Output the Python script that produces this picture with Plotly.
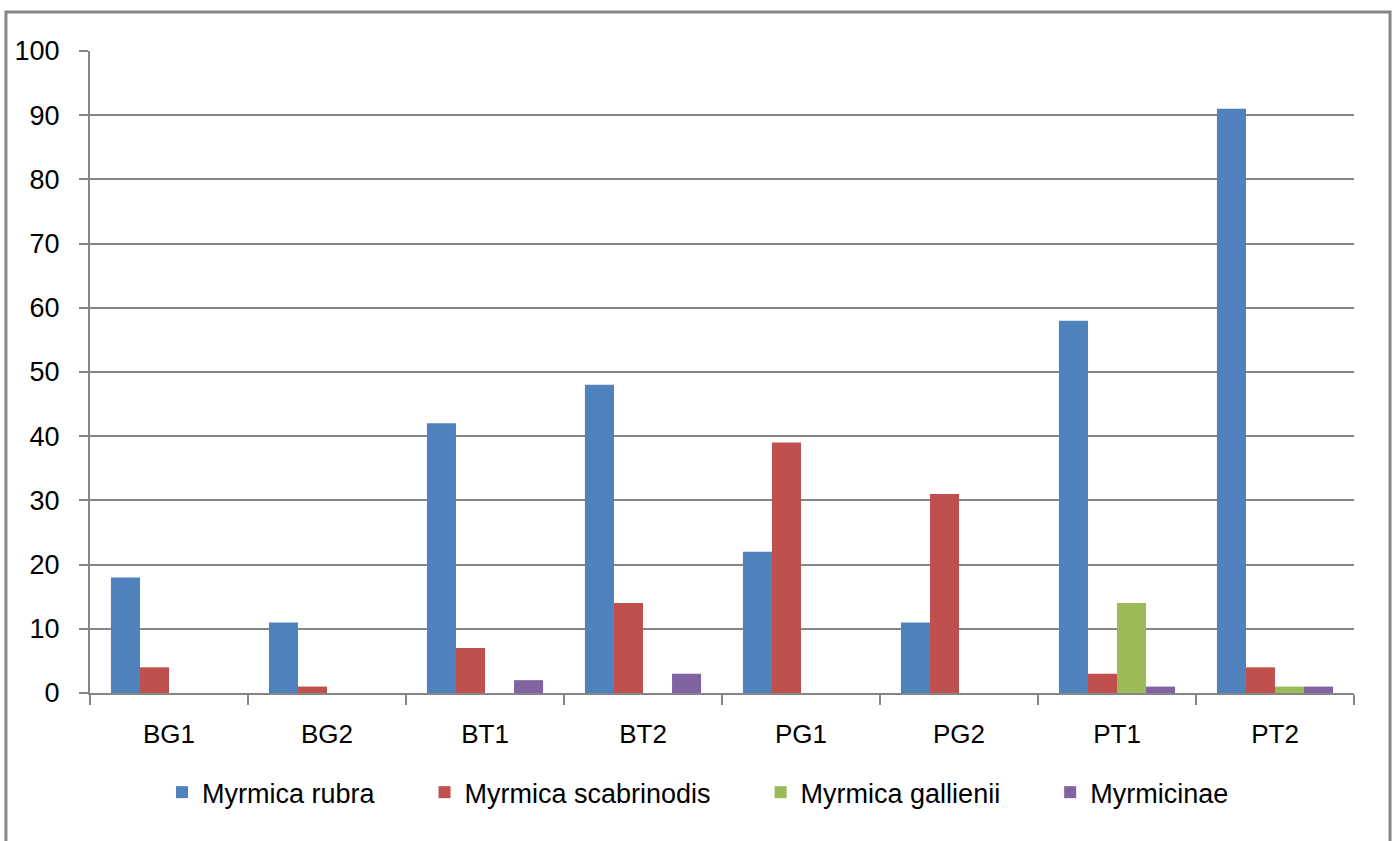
import plotly.graph_objects as go

# Sampling sites
sites = ["BG1", "BG2", "BT1", "BT2", "PG1", "PG2", "PT1", "PT2"]

# Counts per species at each site
myrmica_rubra = [18, 11, 42, 48, 22, 11, 58, 91]
myrmica_scabrinodis = [4, 1, 7, 14, 39, 31, 3, 4]
myrmica_gallienii = [0, 0, 0, 0, 0, 0, 14, 1]
myrmicinae = [0, 0, 2, 3, 0, 0, 1, 1]

y_ticks = list(range(0, 101, 10))

series = [
    ("Myrmica rubra", myrmica_rubra, "#4F81BD"),
    ("Myrmica scabrinodis", myrmica_scabrinodis, "#C0504D"),
    ("Myrmica gallienii", myrmica_gallienii, "#9BBB59"),
    ("Myrmicinae", myrmicinae, "#8064A2"),
]

# non-breaking padding to widen the gap between legend entries
pad = "\u00a0" * 6

fig = go.Figure()
for i, (name, vals, color) in enumerate(series):
    fig.add_trace(go.Bar(
        x=sites, y=vals,
        name=name + (pad if i < len(series) - 1 else ""),
        marker=dict(color=color, line=dict(width=0)),
    ))

grid = "#868686"
font_family = "Liberation Sans, Arial, sans-serif"

fig.update_layout(
    width=1393, height=841,
    margin=dict(l=90, r=39, t=51, b=148),
    paper_bgcolor="white", plot_bgcolor="white",
    barmode="group", bargap=0.265, bargroupgap=0,
    font=dict(family=font_family, size=27, color="black"),
    showlegend=True,
    legend=dict(
        orientation="h", x=0.481, xanchor="center", y=-0.117, yanchor="top",
        font=dict(size=27), itemwidth=30, traceorder="normal",
    ),
    xaxis=dict(
        type="category", showgrid=False,
        showline=True, linecolor=grid, linewidth=2,
        ticks="outside", ticklen=10, tickcolor=grid, tickwidth=2,
        tickson="boundaries", ticklabelstandoff=17,
        tickfont=dict(size=26),
    ),
    yaxis=dict(
        range=[0, 100], tickvals=y_ticks,
        showgrid=True, gridcolor=grid, gridwidth=2,
        showline=True, linecolor=grid, linewidth=2,
        ticks="outside", ticklen=9, tickcolor=grid, tickwidth=2,
        ticklabelstandoff=14, zeroline=False,
    ),
    shapes=[dict(
        type="rect", xref="paper", yref="paper",
        x0=-0.0665, x1=1.0285, y0=-0.4, y1=1.0607,
        line=dict(color=grid, width=3), fillcolor="rgba(0,0,0,0)", layer="below",
    )],
)

fig.write_html("out.html")
